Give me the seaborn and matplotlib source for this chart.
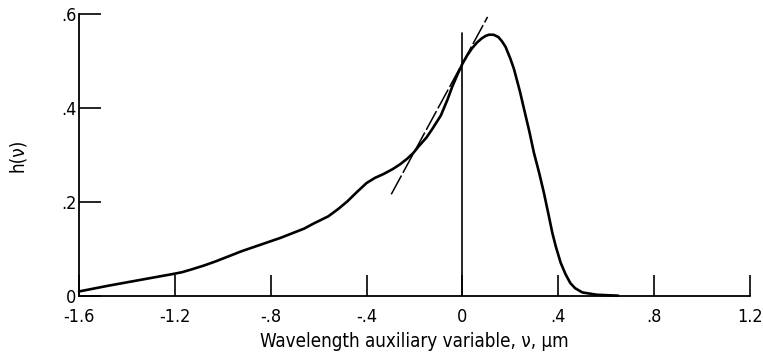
import numpy as np
import pandas as pd
import seaborn as sns
import matplotlib.pyplot as plt

# values
nu = [-1.60, -1.48, -1.34, -1.21, -1.17, -1.13, -1.08, -1.03, -0.98, -0.92,
      -0.84, -0.76, -0.66, -0.62, -0.56, -0.52, -0.48, -0.44, -0.40, -0.365,
      -0.33, -0.29, -0.26, -0.23, -0.205, -0.183, -0.15, -0.126, -0.09, -0.063,
      -0.042, -0.02, 0.00, 0.02, 0.04, 0.06, 0.08, 0.095, 0.11, 0.13, 0.15,
      0.165, 0.18, 0.20, 0.215, 0.24, 0.256, 0.28, 0.298, 0.32, 0.34,
      0.36, 0.375, 0.39, 0.41, 0.43, 0.45, 0.47, 0.50, 0.56, 0.65]
h = [0.009, 0.021, 0.034, 0.046, 0.050, 0.056, 0.064, 0.073, 0.083, 0.095,
     0.109, 0.123, 0.143, 0.154, 0.169, 0.184, 0.201, 0.221, 0.240, 0.251,
     0.259, 0.270, 0.280, 0.292, 0.304, 0.318, 0.337, 0.355, 0.384, 0.417,
     0.446, 0.472, 0.494, 0.512, 0.527, 0.539, 0.548, 0.553, 0.556, 0.556, 0.551,
     0.542, 0.530, 0.505, 0.483, 0.435, 0.400, 0.348, 0.305, 0.262, 0.219,
     0.171, 0.134, 0.104, 0.070, 0.046, 0.027, 0.016, 0.007, 0.002, 0.000]

# tangent line at nu = 0
tan_nu = [-0.297, 0.105]
tan_h = [0.216, 0.594]

# vertical reference line at nu = 0
vline_nu = [0.0, 0.0]
vline_h = [0.0, 0.56]

xticks = [-1.6, -1.2, -0.8, -0.4, 0.0, 0.4, 0.8, 1.2]
xticklabels = ["-1.6", "-1.2", "-.8", "-.4", "0", ".4", ".8", "1.2"]
yticks = [0.0, 0.2, 0.4, 0.6]
yticklabels = ["0", ".2", ".4", ".6"]

sns.set_style("ticks")
plt.rcParams['font.family'] = ['DejaVu Sans']
plt.rcParams['font.stretch'] = 'condensed'
for k in ['text.color', 'axes.labelcolor', 'xtick.color', 'ytick.color']:
    plt.rcParams[k] = 'black'

df = pd.DataFrame({'nu': nu, 'h': h})

fig = plt.figure(figsize=(7.63, 3.52), dpi=100)
ax = fig.add_axes([0.1035, 0.16, 0.8795, 0.80])

sns.lineplot(data=df, x='nu', y='h', ax=ax, color='black', linewidth=1.9,
             sort=False, clip_on=False, solid_joinstyle='round')
ax.plot(tan_nu, tan_h, color='black', linewidth=1.1, dashes=(14, 2))
ax.plot(vline_nu, vline_h, color='black', linewidth=1.2)

ax.set_xlim(-1.6, 1.2)
ax.set_ylim(0, 0.6)
ax.set_xticks(xticks)
ax.set_xticklabels(xticklabels)
ax.set_yticks(yticks)
ax.set_yticklabels(yticklabels)
ax.tick_params(axis='x', direction='in', length=15, width=1.2, pad=9,
               labelsize=13)
ax.tick_params(axis='y', direction='in', length=16, width=1.2, pad=2,
               labelsize=13)

for s in ['top', 'right']:
    ax.spines[s].set_visible(False)
for s in ['left', 'bottom']:
    ax.spines[s].set_linewidth(1.3)
    ax.spines[s].set_color('black')

ax.set_xlabel("Wavelength auxiliary variable, \u03bd, \u03bcm", fontsize=13.5, labelpad=4)
ax.set_ylabel("h(\u03bd)", fontsize=13.5, labelpad=24)

fig.savefig("out.png", dpi=100)
